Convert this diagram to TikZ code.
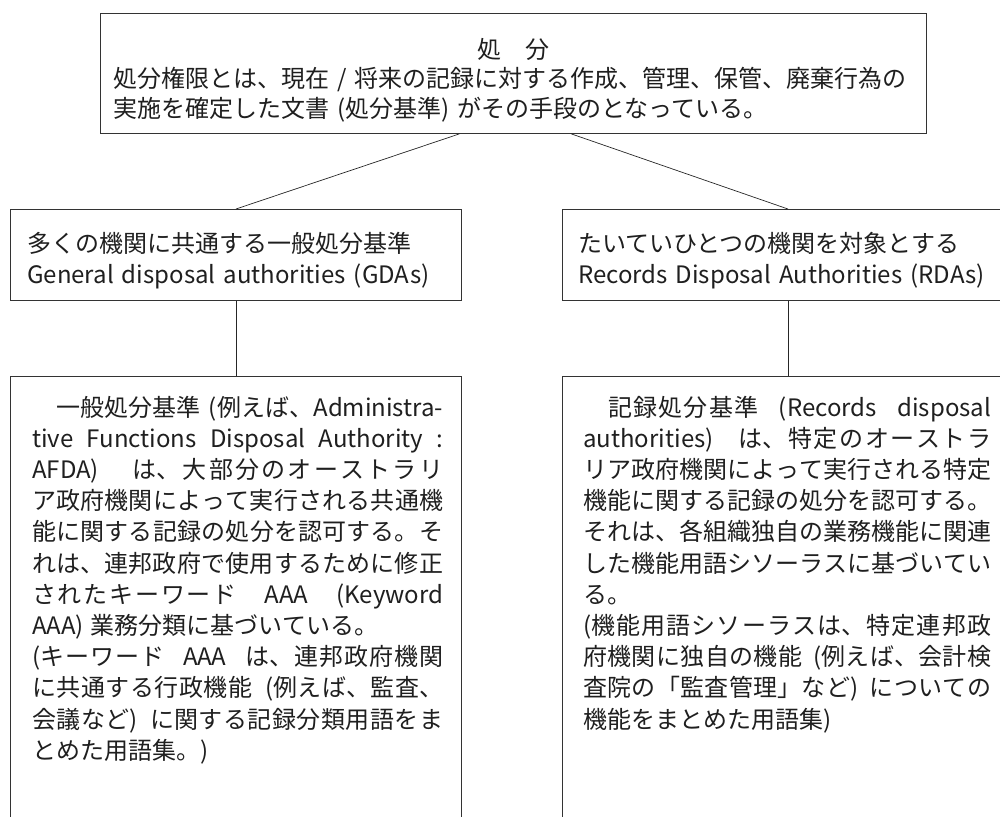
\documentclass[tikz,border=0pt]{standalone}
\usepackage{fontspec}
\setmainfont{Noto Sans CJK JP}
\usetikzlibrary{calc}
\newcommand{\jajust}{\XeTeXlinebreaklocale "ja"\XeTeXlinebreakskip=0pt plus 1pt\relax
  \spaceskip=0.28em plus 0.5em minus 0.05em\relax
  \tolerance=10000 \hyphenpenalty=10000 \parindent=0pt \parskip=0pt \emergencystretch=20pt\relax}
\begin{document}
\begin{tikzpicture}[x=1pt,y=-1pt,
  box/.style={draw=black!80, line width=0.9pt, inner sep=0pt, anchor=north west, fill=none},
  conn/.style={draw=black!85, line width=0.7pt},
  txt/.style={inner sep=0pt, anchor=base west, align=left, text=black!88, font=\fontsize{24}{31.2}\selectfont}]
\useasboundingbox (0,0) rectangle (1000,816);
\clip (0,0) rectangle (1000,816);
% boxes
\node[box, minimum width=826pt, minimum height=120pt] (top) at (100,13) {};
\node[box, minimum width=451pt, minimum height=91pt] (gda) at (10,209) {};
\node[box, minimum width=451pt, minimum height=91pt] (rda) at (562,209) {};
\node[box, minimum width=451pt, minimum height=500pt] (gdad) at (10,376) {};
\node[box, minimum width=451pt, minimum height=500pt] (rdad) at (562,376) {};
% connectors
\draw[conn] ($(top.south west)!0.4346!(top.south east)$) -- (gda.north);
\draw[conn] ($(top.south west)!0.570!(top.south east)$) -- (rda.north);
\draw[conn] (gda.south) -- (gdad.north);
\draw[conn] (rda.south) -- (rdad.north);
% texts
\node[txt, anchor=base] (toptitle) at (513,59) {処　分};
\node[txt, text width=820pt, font=\fontsize{24}{30}\selectfont] (toptext) at (113,87)
  {処分権限とは、現在 / 将来の記録に対する作成、管理、保管、廃棄行為の\\
   実施を確定した文書 (処分基準) がその手段のとなっている。};
\node[txt, text width=440pt] (gdatext) at (27,252)
  {多くの機関に共通する一般処分基準\\
   General disposal authorities (GDAs)};
\node[txt, text width=440pt] (rdatext) at (578,252)
  {たいていひとつの機関を対象とする\\
   Records Disposal Authorities (RDAs)};
\node[txt, text width=411pt, align=justify] (gdadtext) at (32,416)
  {\jajust
   　一般処分基準 (例えば、Administra-\linebreak
   tive Functions Disposal Authority :\linebreak
   AFDA) は、大部分のオーストラリ\linebreak
   ア政府機関によって実行される共通機\linebreak
   能に関する記録の処分を認可する。そ\linebreak
   れは、連邦政府で使用するために修正\linebreak
   されたキーワード AAA (Keyword\linebreak
   AAA) 業務分類に基づいている。\par
   (キーワード AAA は、連邦政府機関\linebreak
   に共通する行政機能 (例えば、監査、\linebreak
   会議など) に関する記録分類用語をま\linebreak
   とめた用語集。)\par};
\node[txt, text width=408pt, align=justify] (rdadtext) at (583,416)
  {\jajust
   　記録処分基準 (Records disposal\linebreak
   authorities) は、特定のオーストラ\linebreak
   リア政府機関によって実行される特定\linebreak
   機能に関する記録の処分を認可する。\linebreak
   それは、各組織独自の業務機能に関連\linebreak
   した機能用語シソーラスに基づいてい\linebreak
   る。\par
   (機能用語シソーラスは、特定連邦政\linebreak
   府機関に独自の機能 (例えば、会計検\linebreak
   査院の「監査管理」など) についての\linebreak
   機能をまとめた用語集)\par};
\end{tikzpicture}
\end{document}
